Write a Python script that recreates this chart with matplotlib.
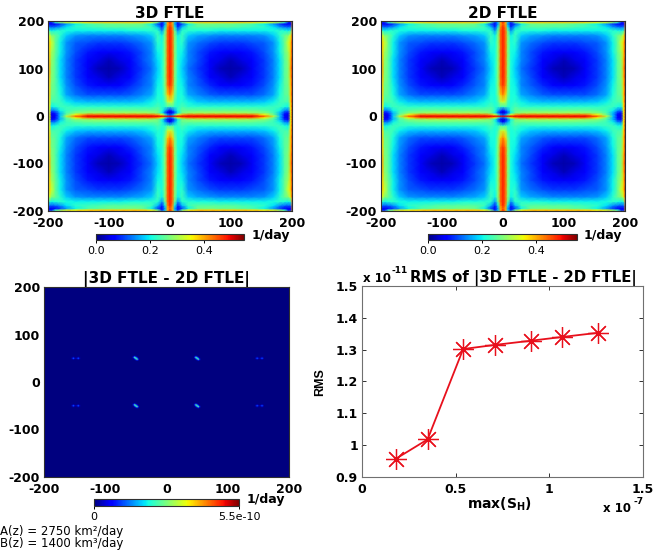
import numpy as np
import matplotlib
matplotlib.use("Agg")
import matplotlib.pyplot as plt
from matplotlib.colors import Normalize
from matplotlib.cm import ScalarMappable

plt.rcParams['font.family'] = ['DejaVu Sans']
plt.rcParams['axes.unicode_minus'] = False
plt.rcParams['mathtext.default'] = 'regular'

W, H = 655, 550

# FTLE field, one quadrant (values x 0.01 1/day); the field is mirrored
node_x = [0, 4, 8, 13, 20, 30, 45, 65, 82, 100, 118, 135, 155, 170, 180, 188, 194, 198, 200]
node_y = [0, 3, 7, 12, 20, 30, 45, 65, 82, 100, 118, 135, 155, 170, 180, 188, 194, 198, 200]
ftle_quadrant = [
    [50, 50, 50, 50, 50, 50, 50, 50, 50, 50, 50, 50, 44, 32, 18, 7, 5, 35, 50],
    [12, 16, 25, 35, 41, 44, 44, 44, 44, 44, 44, 44, 36, 26, 17, 7, 5, 35, 50],
    [4, 6, 12, 20, 27, 29, 30, 30, 30, 30, 30, 29, 28, 24, 17, 9, 7, 35, 50],
    [7, 11, 16, 22, 26, 26, 26, 26, 26, 26, 26, 26, 25, 23, 20, 14, 13, 35, 50],
    [22, 24, 22, 22, 24, 22, 22, 22, 22, 22, 22, 22, 22, 23, 23, 21, 20, 36, 50],
    [33, 31, 24, 21, 22, 20, 18, 17, 17, 17, 17, 17, 18, 20, 23, 24, 24, 37, 50],
    [42, 38, 27, 21, 21, 16, 14, 12, 11, 11, 11, 11, 13, 16, 21, 25, 26, 38, 50],
    [47, 43, 28, 21, 20, 14, 12, 9, 7, 6, 7, 8, 11, 15, 20, 25, 27, 38, 50],
    [48, 44, 28, 21, 19, 14, 11, 7, 5, 3, 5, 7, 10, 14, 19, 25, 28, 39, 50],
    [48, 44, 28, 21, 18, 13, 10, 6, 3, 2, 3, 6, 10, 14, 19, 25, 28, 40, 50],
    [48, 44, 28, 21, 19, 14, 11, 7, 5, 3, 5, 7, 10, 14, 19, 25, 29, 39, 50],
    [48, 44, 28, 21, 20, 14, 11, 8, 7, 6, 7, 8, 11, 15, 20, 26, 30, 38, 50],
    [48, 44, 28, 21, 22, 15, 13, 11, 10, 10, 10, 11, 12, 15, 20, 26, 33, 38, 50],
    [48, 44, 28, 20, 23, 18, 16, 15, 14, 14, 14, 14, 15, 18, 22, 26, 28, 34, 48],
    [48, 44, 26, 15, 22, 22, 21, 21, 20, 20, 20, 20, 20, 21, 22, 21, 20, 22, 45],
    [48, 42, 20, 9, 17, 23, 25, 25, 25, 25, 24, 23, 22, 19, 15, 13, 12, 13, 45],
    [45, 40, 16, 6, 11, 20, 26, 27, 26, 26, 25, 24, 20, 15, 10, 7, 6, 7, 42],
    [48, 40, 18, 9, 26, 35, 38, 38, 38, 38, 38, 37, 35, 33, 28, 22, 8, 8, 42],
    [46, 42, 30, 30, 44, 46, 46, 46, 46, 46, 46, 46, 46, 46, 44, 40, 30, 30, 40],
]
ftle_vmax = 0.55
ftle_cbar_ticks = [0.0, 0.2, 0.4]
ftle_cbar_labels = ['0.0', '0.2', '0.4']

# |3D - 2D| difference: spot locations and their small patterns of values (x 1e-10 1/day)
inner_spot_x = [-50, 50, -50, 50]
inner_spot_y = [50, 50, -50, -50]
outer_spot_x = [-148, 151, -148, 151]
outer_spot_y = [50, 50, -50, -50]
inner_pattern = [
    [0.0, 0.0, 0.3, 1.0, 0.3],
    [0.0, 0.5, 1.5, 2.8, 1.0],
    [0.3, 1.5, 2.4, 1.5, 0.3],
    [1.0, 2.8, 1.5, 0.5, 0.0],
    [0.3, 1.0, 0.3, 0.0, 0.0],
]
outer_pattern = [
    [0.1, 0.4, 0.1, 0.0, 0.1, 0.4, 0.1],
    [0.4, 1.3, 0.5, 0.2, 0.5, 1.3, 0.4],
    [0.1, 0.4, 0.1, 0.0, 0.1, 0.4, 0.1],
]
diff_vmax = 5.5

# RMS curve
max_sh = [0.18, 0.35, 0.54, 0.71, 0.90, 1.07, 1.26]      # x 1e-7
rms = [0.957, 1.018, 1.302, 1.315, 1.328, 1.340, 1.353]  # x 1e-11

heat_ticks = [-200, -100, 0, 100, 200]
rms_xticks = [0, 0.5, 1, 1.5]
rms_xlabels = ['0', '0.5', '1', '1.5']
rms_yticks = [0.9, 1.0, 1.1, 1.2, 1.3, 1.4, 1.5]
rms_ylabels = ['0.9', '1', '1.1', '1.2', '1.3', '1.4', '1.5']

FS = 9
TS = 11
EDGE = '#303030'


def box(x0, y0, x1, y1):
    """Axes rectangle from pixel edges (y measured from the top)."""
    return [x0 / W, 1 - y1 / H, (x1 - x0) / W, (y1 - y0) / H]


def px(x, y):
    return x / W, 1 - y / H


fig = plt.figure(figsize=(W / 100, H / 100), dpi=100)

q = np.array(ftle_quadrant, dtype=float) / 100
nx = np.array(node_x, dtype=float)
ny = np.array(node_y, dtype=float)
full_x = np.concatenate([-nx[::-1], nx[1:]])
full_y = np.concatenate([-ny[::-1], ny[1:]])
upper = np.concatenate([q[:, ::-1], q[:, 1:]], axis=1)
field = np.concatenate([upper[::-1, :], upper[1:, :]], axis=0)


def style_heat(ax):
    ax.set_xlim(-200, 200)
    ax.set_ylim(-200, 200)
    ax.set_xticks(heat_ticks)
    ax.set_yticks(heat_ticks)
    ax.tick_params(direction='in', length=0, labelsize=FS, pad=3)
    ax.tick_params(axis='x', pad=4)
    for lab in ax.get_xticklabels() + ax.get_yticklabels():
        lab.set_fontweight('bold')
    for s in ax.spines.values():
        s.set_color(EDGE)
        s.set_linewidth(0.8)


def colorbar(rect, vmax, ticks, labels, unit_xy):
    cax = fig.add_axes(box(*rect))
    sm = ScalarMappable(Normalize(0, vmax), 'jet')
    cb = fig.colorbar(sm, cax=cax, orientation='horizontal')
    cb.set_ticks(ticks)
    cb.set_ticklabels(labels)
    cax.tick_params(length=2, width=0.7, labelsize=8, pad=2, direction='out')
    cb.outline.set_linewidth(0.8)
    cb.outline.set_edgecolor(EDGE)
    fig.text(*px(*unit_xy), '1/day', fontsize=FS, fontweight='bold', ha='left', va='center')


# Top panels
panels = [((48, 21, 292, 211), '3D FTLE', (96, 234, 244, 240), (252, 235)),
          ((381, 21, 625, 211), '2D FTLE', (428, 234, 577, 240), (584, 235))]
for rect, title, crect, uxy in panels:
    ax = fig.add_axes(box(*rect))
    ax.pcolormesh(full_x, full_y, field, shading='gouraud', cmap='jet', vmin=0, vmax=ftle_vmax, rasterized=True)
    style_heat(ax)
    ax.set_title(title, fontsize=TS, fontweight='bold', pad=1)
    colorbar(crect, ftle_vmax, ftle_cbar_ticks, ftle_cbar_labels, uxy)

# Bottom-left panel
ax = fig.add_axes(box(44, 287, 289, 477))
gx = np.arange(-200, 201, 2)
gy = np.arange(-200, 201, 2)
diff = np.zeros((gy.size, gx.size))
for pattern, xs, ys in ((inner_pattern, inner_spot_x, inner_spot_y), (outer_pattern, outer_spot_x, outer_spot_y)):
    p = np.array(pattern)
    for sx, sy in zip(xs, ys):
        i = np.searchsorted(gy, sy) - p.shape[0] // 2
        j = np.searchsorted(gx, sx) - p.shape[1] // 2
        diff[i:i + p.shape[0], j:j + p.shape[1]] = p
ax.imshow(diff, extent=(-201, 201, -201, 201), origin='lower', cmap='jet', vmin=0, vmax=diff_vmax,
          interpolation='bilinear', aspect='auto')
style_heat(ax)
ax.set_title('|3D FTLE - 2D FTLE|', fontsize=TS, fontweight='bold', pad=1)
colorbar((94, 499, 239, 506), diff_vmax, [0, diff_vmax], ['0', '5.5e-10'], (247, 500))

fig.text(*px(0, 531), 'A(z) = 2750 km\u00b2/day', fontsize=8.5, ha='left', va='center')
fig.text(*px(0, 543), 'B(z) = 1400 km\u00b3/day', fontsize=8.5, ha='left', va='center')

# Bottom-right panel
ax = fig.add_axes(box(362, 286, 643, 477))
ax.plot(max_sh, rms, color='#e8101c', lw=1.3, marker=(8, 2, 0), ms=15, mew=0.9, mec='#e8101c')
ax.set_xlim(0, 1.5)
ax.set_ylim(0.9, 1.5)
ax.set_xticks(rms_xticks, rms_xlabels)
ax.set_yticks(rms_yticks, rms_ylabels)
ax.tick_params(direction='in', length=3, width=0.7, labelsize=FS, pad=3, top=True, right=True, color=EDGE)
ax.tick_params(axis='x', pad=4)
for lab in ax.get_xticklabels() + ax.get_yticklabels():
    lab.set_fontweight('bold')
for s in ax.spines.values():
    s.set_color('#707070')
    s.set_linewidth(0.8)
fig.text(*px(499, 504), r'$\mathbf{max(S_{H})}$', fontsize=10, ha='center', va='center')
fig.text(*px(320, 382), 'RMS', fontsize=9, fontweight='bold', family='Liberation Sans',
         rotation=90, ha='center', va='center')
fig.text(*px(410, 278), 'RMS of |3D FTLE - 2D FTLE|', fontsize=10.7, fontweight='bold', ha='left', va='center')
fig.text(*px(363, 278), 'x 10', fontsize=FS - 0.5, fontweight='bold', ha='left', va='center')
fig.text(*px(392, 270), '-11', fontsize=6.5, fontweight='bold', ha='left', va='center')
fig.text(*px(603, 508), 'x 10', fontsize=FS - 0.5, fontweight='bold', ha='left', va='center')
fig.text(*px(633, 502), '-7', fontsize=6.5, fontweight='bold', ha='left', va='center')

fig.savefig('out.png', dpi=100)
